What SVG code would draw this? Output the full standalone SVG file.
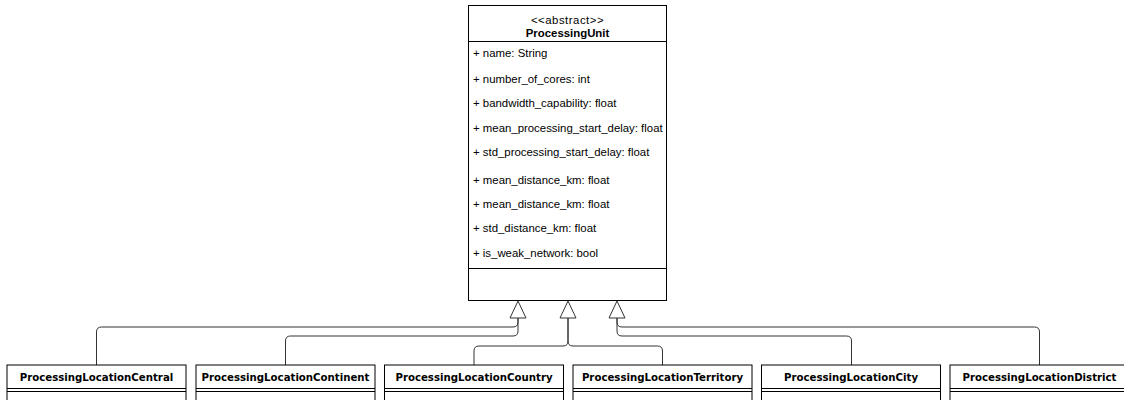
<svg xmlns="http://www.w3.org/2000/svg" width="1124" height="400" viewBox="0 0 1124 400">
<style>
.box{fill:#fff;stroke:#000;stroke-width:1}
.ln{fill:none;stroke:#000;stroke-width:1}
.attr{font-family:"Liberation Sans",Arial,sans-serif;font-size:11.4px;fill:#000}
.stereo{font-family:"Liberation Sans",Arial,sans-serif;font-size:11.4px;letter-spacing:0.5px;fill:#000;text-anchor:middle}
.title{font-family:"Liberation Sans",Arial,sans-serif;font-size:11.4px;font-weight:bold;fill:#000;text-anchor:middle}
.child{font-family:"DejaVu Sans",Verdana,sans-serif;font-size:10.2px;font-weight:bold;fill:#000;text-anchor:middle}
.conn{fill:none;stroke:#333;stroke-width:1}
.tri{fill:#fff;stroke:#333;stroke-width:1}
</style>
<rect width="1124" height="400" fill="#fff"/>
<g id="ProcessingUnit">
<rect class="box" x="468.5" y="5.5" width="198" height="295"/>
<line class="ln" x1="468.5" y1="41.5" x2="666.5" y2="41.5"/>
<line class="ln" x1="468.5" y1="268.5" x2="666.5" y2="268.5"/>
<text class="stereo" x="567.5" y="24">&lt;&lt;abstract&gt;&gt;</text>
<text class="title" x="567.5" y="36.5">ProcessingUnit</text>
<text class="attr" x="473" y="57">+ name: String</text>
<text class="attr" x="473" y="83">+ number_of_cores: int</text>
<text class="attr" x="473" y="107">+ bandwidth_capability: float</text>
<text class="attr" x="473" y="132">+ mean_processing_start_delay: float</text>
<text class="attr" x="473" y="156">+ std_processing_start_delay: float</text>
<text class="attr" x="473" y="184">+ mean_distance_km: float</text>
<text class="attr" x="473" y="208">+ mean_distance_km: float</text>
<text class="attr" x="473" y="232">+ std_distance_km: float</text>
<text class="attr" x="473" y="257">+ is_weak_network: bool</text>
</g>
<g id="connectors">
<path class="conn" d="M518,318 V322 Q518,327 513,327 H101.5 Q96.5,327 96.5,332 V365"/>
<path class="conn" d="M518,318 V331 Q518,336 513,336 H290.5 Q285.5,336 285.5,341 V365"/>
<path class="conn" d="M568,318 V341 Q568,346 563,346 H479 Q474,346 474,351 V365"/>
<path class="conn" d="M568,318 V341 Q568,346 573,346 H657.5 Q662.5,346 662.5,351 V365"/>
<path class="conn" d="M617,318 V331 Q617,336 622,336 H846.5 Q851.5,336 851.5,341 V365"/>
<path class="conn" d="M617,318 V322 Q617,327 622,327 H1034.5 Q1039.5,327 1039.5,332 V365"/>
<polygon class="tri" points="518,301 510,318 526,318"/>
<polygon class="tri" points="568,301 560,318 576,318"/>
<polygon class="tri" points="617,301 609,318 625,318"/>
</g>
<g id="ProcessingLocationCentral">
<rect class="box" x="7" y="365" width="179" height="45"/>
<line class="ln" x1="7" y1="388.5" x2="186" y2="388.5"/>
<line class="ln" x1="7" y1="391.5" x2="186" y2="391.5"/>
<text class="child" x="96.5" y="381">ProcessingLocationCentral</text>
</g>
<g id="ProcessingLocationContinent">
<rect class="box" x="196" y="365" width="179" height="45"/>
<line class="ln" x1="196" y1="388.5" x2="375" y2="388.5"/>
<line class="ln" x1="196" y1="391.5" x2="375" y2="391.5"/>
<text class="child" x="285.5" y="381">ProcessingLocationContinent</text>
</g>
<g id="ProcessingLocationCountry">
<rect class="box" x="384.5" y="365" width="179" height="45"/>
<line class="ln" x1="384.5" y1="388.5" x2="563.5" y2="388.5"/>
<line class="ln" x1="384.5" y1="391.5" x2="563.5" y2="391.5"/>
<text class="child" x="474" y="381">ProcessingLocationCountry</text>
</g>
<g id="ProcessingLocationTerritory">
<rect class="box" x="573" y="365" width="179" height="45"/>
<line class="ln" x1="573" y1="388.5" x2="752" y2="388.5"/>
<line class="ln" x1="573" y1="391.5" x2="752" y2="391.5"/>
<text class="child" x="662.5" y="381">ProcessingLocationTerritory</text>
</g>
<g id="ProcessingLocationCity">
<rect class="box" x="761.5" y="365" width="179" height="45"/>
<line class="ln" x1="761.5" y1="388.5" x2="940.5" y2="388.5"/>
<line class="ln" x1="761.5" y1="391.5" x2="940.5" y2="391.5"/>
<text class="child" x="851" y="381">ProcessingLocationCity</text>
</g>
<g id="ProcessingLocationDistrict">
<rect class="box" x="950" y="365" width="179" height="45"/>
<line class="ln" x1="950" y1="388.5" x2="1129" y2="388.5"/>
<line class="ln" x1="950" y1="391.5" x2="1129" y2="391.5"/>
<text class="child" x="1039.5" y="381">ProcessingLocationDistrict</text>
</g>
</svg>
